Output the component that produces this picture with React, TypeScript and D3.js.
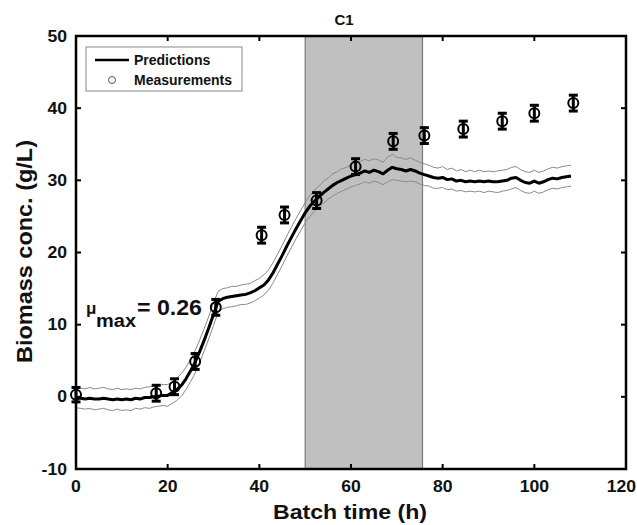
import React from "react";
import * as d3 from "d3";

const title = "C1";
const xTicks = [0, 20, 40, 60, 80, 100, 120];
const yTicks = [-10, 0, 10, 20, 30, 40, 50];
const shadeRange = [50, 75.6];

const predTime = d3.range(0, 109);
const predMean = [
  -0.1, -0.2, -0.3, -0.2, -0.3, -0.3, -0.2, -0.3, -0.4, -0.3,
  -0.4, -0.3, -0.4, -0.2, -0.3, -0.1, -0.1, 0.0, 0.1, 0.2,
  0.2, 0.6, 1.0, 1.6, 2.5, 3.6, 4.8, 6.3, 7.9, 9.6,
  11.4, 13.2, 13.6, 13.8, 13.9, 14.0, 14.1, 14.2, 14.4, 14.7,
  15.1, 15.5, 16.2, 17.2, 18.4, 19.6, 20.9, 22.1, 23.3, 24.4,
  25.5, 26.4, 27.1, 27.7, 28.3, 28.8, 29.3, 29.7, 30.0, 30.3,
  30.6, 30.8, 31.0, 31.3, 31.1, 31.4, 31.2, 30.9, 31.4, 31.8,
  31.6, 31.5, 31.3, 31.5, 31.3, 31.0, 30.8, 30.6, 30.4, 30.3,
  30.4, 30.1, 30.2, 29.9, 30.0, 29.8, 29.9, 29.8, 29.9, 29.8,
  29.9, 29.8, 29.8, 29.9, 30.0, 30.3, 30.4, 30.0, 29.7, 29.6,
  29.9, 29.6, 29.8, 30.1, 30.3, 30.2, 30.4, 30.5, 30.6,
];
const predUpper = [
  1.3, 1.2, 1.1, 1.3, 1.1, 1.2, 1.3, 1.1, 1.0, 1.2,
  1.0, 1.1, 1.0, 1.2, 1.1, 1.3, 1.4, 1.5, 1.6, 1.7,
  1.7, 2.1, 2.6, 3.2, 4.1, 5.2, 6.4, 7.9, 9.5, 11.2,
  13.0, 14.6, 15.0, 15.1, 15.3, 15.3, 15.5, 15.6, 15.7, 16.1,
  16.4, 16.9, 17.6, 18.6, 19.8, 21.0, 22.3, 23.5, 24.7, 25.8,
  26.9, 27.9, 28.6, 29.2, 29.9, 30.3, 30.9, 31.2, 31.6, 31.8,
  32.2, 32.4, 32.6, 32.9, 32.7, 33.0, 32.8, 32.5, 33.2, 33.6,
  33.2, 33.1, 32.9, 33.1, 32.8, 32.5, 32.3, 32.1, 31.8, 31.7,
  31.9, 31.5, 31.7, 31.3, 31.5, 31.2, 31.4, 31.2, 31.4, 31.2,
  31.3, 31.2, 31.3, 31.4, 31.5, 31.8, 31.9, 31.5, 31.2, 31.1,
  31.4, 31.1, 31.3, 31.6, 31.8, 31.7, 31.9, 32.0, 32.1,
];
const predLower = [
  -1.5, -1.6, -1.7, -1.6, -1.8, -1.7, -1.6, -1.8, -1.9, -1.7,
  -1.9, -1.8, -1.9, -1.6, -1.7, -1.5, -1.6, -1.4, -1.3, -1.2,
  -1.3, -0.9, -0.5, 0.1, 1.0, 2.1, 3.3, 4.8, 6.4, 8.1,
  9.9, 11.7, 12.2, 12.4, 12.5, 12.6, 12.8, 12.8, 13.0, 13.3,
  13.7, 14.1, 14.8, 15.8, 17.0, 18.2, 19.5, 20.7, 21.9, 23.0,
  24.1, 25.0, 25.7, 26.3, 26.8, 27.4, 27.8, 28.2, 28.5, 28.8,
  29.1, 29.3, 29.5, 29.8, 29.6, 29.9, 29.7, 29.4, 29.8, 30.1,
  30.0, 29.9, 29.8, 29.9, 29.8, 29.5, 29.3, 29.2, 28.9, 28.9,
  29.0, 28.7, 28.8, 28.5, 28.6, 28.4, 28.5, 28.4, 28.5, 28.3,
  28.5, 28.4, 28.3, 28.5, 28.6, 28.8, 29.0, 28.6, 28.3, 28.2,
  28.5, 28.2, 28.4, 28.7, 28.9, 28.8, 29.0, 29.1, 29.2,
];

const measTime = [0, 17.5, 21.5, 26, 30.5, 40.5, 45.5, 52.5, 61, 69.2, 76, 84.5, 93, 100, 108.5];
const measValue = [0.3, 0.5, 1.4, 4.9, 12.4, 22.4, 25.2, 27.2, 31.9, 35.4, 36.2, 37.1, 38.2, 39.3, 40.7];
const measError = [1.0, 1.1, 1.1, 1.1, 1.1, 1.1, 1.1, 1.1, 1.1, 1.1, 1.1, 1.1, 1.1, 1.1, 1.1];

const W = 637;
const H = 525;
const L = 76, R = 626, T = 36, B = 469;
const FONT = "Arial, 'Liberation Sans', Helvetica, sans-serif";

function SText(props: {
  x: number; y: number; anchor?: string; size: number; sx?: number; children: React.ReactNode;
}) {
  const { x, y, anchor = "start", size, sx = 1, children } = props;
  return (
    <text
      transform={`translate(${x},${y}) scale(${sx},1)`}
      textAnchor={anchor}
      fontFamily={FONT}
      fontWeight="bold"
      fontSize={size}
      fill="#111"
    >
      {children}
    </text>
  );
}

export default function App() {
  const x = d3.scaleLinear().domain([0, 120]).range([L, R]);
  const y = d3.scaleLinear().domain([-10, 50]).range([B, T]);

  const mkLine = (vals: number[]) =>
    d3.line<number>().x((_, i) => x(predTime[i])).y((d) => y(d))(vals) || "";

  const tickLen = 5;

  return (
    <svg width={W} height={H} style={{ position: "absolute", left: 0, top: 0, background: "#fff" }}>
      <rect x={0} y={0} width={W} height={H} fill="#fff" />
      <rect
        x={x(shadeRange[0])}
        y={T}
        width={x(shadeRange[1]) - x(shadeRange[0])}
        height={B - T}
        fill="#c0c0c0"
        stroke="#7a7a7a"
        strokeWidth={1.2}
      />
      <path d={mkLine(predUpper)} fill="none" stroke="#8a8a8a" strokeWidth={1} />
      <path d={mkLine(predLower)} fill="none" stroke="#8a8a8a" strokeWidth={1} />
      <path d={mkLine(predMean)} fill="none" stroke="#000" strokeWidth={3} strokeLinejoin="round" />

      {measTime.map((t, i) => {
        const cx = x(t);
        const cy = y(measValue[i]);
        const y1 = y(measValue[i] + measError[i]);
        const y2 = y(measValue[i] - measError[i]);
        return (
          <g key={i}>
            <line x1={cx} x2={cx} y1={y1} y2={y2} stroke="#000" strokeWidth={3} />
            <line x1={cx - 4.5} x2={cx + 4.5} y1={y1} y2={y1} stroke="#000" strokeWidth={3} />
            <line x1={cx - 4.5} x2={cx + 4.5} y1={y2} y2={y2} stroke="#000" strokeWidth={3} />
            <circle cx={cx} cy={cy} r={5} fill="none" stroke="#000" strokeWidth={2} />
          </g>
        );
      })}

      <rect x={L} y={T} width={R - L} height={B - T} fill="none" stroke="#000" strokeWidth={2.5} />
      {xTicks.map((t) => (
        <g key={"xt" + t}>
          <line x1={x(t)} x2={x(t)} y1={B} y2={B - tickLen} stroke="#000" strokeWidth={2} />
          <line x1={x(t)} x2={x(t)} y1={T} y2={T + tickLen} stroke="#000" strokeWidth={2} />
          {t === 120 ? (
            <SText x={636} y={492} anchor="end" size={16} sx={1.1}>{t}</SText>
          ) : (
            <SText x={x(t)} y={492} anchor="middle" size={16} sx={1.1}>{t}</SText>
          )}
        </g>
      ))}
      {yTicks.map((t) => (
        <g key={"yt" + t}>
          <line x1={L} x2={L + tickLen} y1={y(t)} y2={y(t)} stroke="#000" strokeWidth={2} />
          <line x1={R} x2={R - tickLen} y1={y(t)} y2={y(t)} stroke="#000" strokeWidth={2} />
          <SText x={67} y={y(t) + 5.5} anchor="end" size={16} sx={1.1}>{t}</SText>
        </g>
      ))}

      <SText x={344} y={25} anchor="middle" size={15}>{title}</SText>

      <text
        x={350}
        y={519}
        textAnchor="middle"
        fontFamily={FONT}
        fontWeight="bold"
        fontSize={20}
        fill="#111"
        textLength={154}
        lengthAdjust="spacingAndGlyphs"
      >
        Batch time (h)
      </text>
      <text
        transform={`translate(32, 251.5) rotate(-90)`}
        textAnchor="middle"
        fontFamily={FONT}
        fontWeight="bold"
        fontSize={22.5}
        fill="#111"
        textLength={223}
        lengthAdjust="spacingAndGlyphs"
      >
        Biomass conc. (g/L)
      </text>

      <SText x={86} y={314} size={17}>μ</SText>
      <text
        x={96}
        y={327}
        fontFamily={FONT}
        fontWeight="bold"
        fontSize={18}
        fill="#111"
        textLength={40}
        lengthAdjust="spacingAndGlyphs"
      >
        max
      </text>
      <text
        x={137}
        y={315}
        fontFamily={FONT}
        fontWeight="bold"
        fontSize={22}
        fill="#111"
        textLength={65}
        lengthAdjust="spacingAndGlyphs"
      >
        = 0.26
      </text>

      <rect x={86} y={47} width={156} height={44} fill="#fff" stroke="#888" strokeWidth={1} />
      <line x1={95} x2={129} y1={60} y2={60} stroke="#000" strokeWidth={2.5} />
      <SText x={134} y={65} size={14}>Predictions</SText>
      <circle cx={112} cy={80} r={3.5} fill="none" stroke="#555" strokeWidth={1} />
      <SText x={134} y={84.5} size={14}>Measurements</SText>
    </svg>
  );
}
